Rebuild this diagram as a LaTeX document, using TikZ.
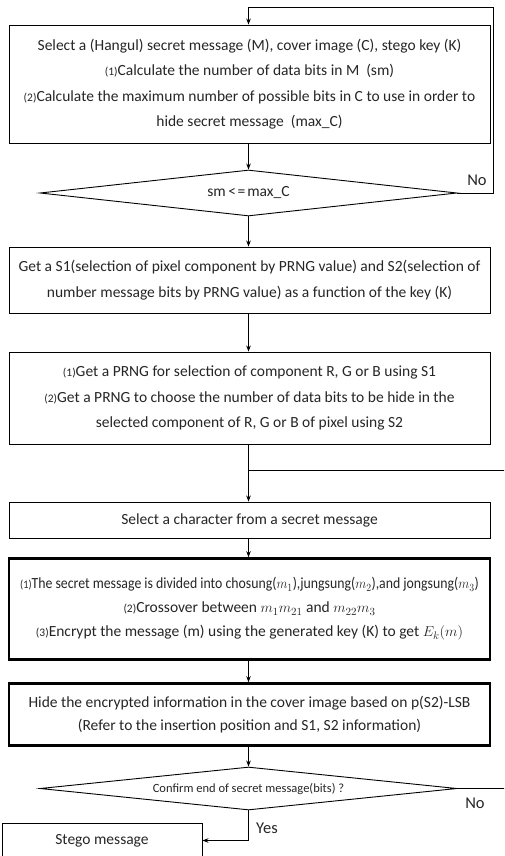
\documentclass[tikz,border=0pt]{standalone}
\usepackage{fontspec}
\setmainfont{Carlito}
\usetikzlibrary{shapes.geometric,arrows.meta}
\newcommand\parnum[1]{{\fontsize{11.5}{12}\selectfont(#1)}}
\begin{document}
\begin{tikzpicture}[x=1pt,y=-1pt,
  box/.style={draw, line width=0.9pt, align=center, inner sep=0pt, minimum width=481pt, font=\fontsize{15.5}{25.5}\selectfont, text=black!85},
  thickbox/.style={box, line width=2.6pt},
  dec/.style={draw, diamond, aspect=9, inner sep=0pt, line width=0.9pt, minimum width=417pt},
  arr/.style={-{Stealth[length=6pt,width=4.5pt]}, line width=0.8pt},
  ln/.style={line width=0.8pt},
  lbl/.style={font=\fontsize{16.5}{16.5}\selectfont, text=black!85, inner sep=0pt}]
\useasboundingbox (0,0) rectangle (504,856);
\clip (0,0) rectangle (504,856);
\fill[white] (0,0) rectangle (504,856);

\node[box, minimum height=118pt] (b1) at (249.5,84) {Select a (Hangul) secret message (M), cover image (C), stego key (K)\\
\parnum{1}Calculate the number of data bits in M~~(sm)\\
\parnum{2}Calculate the maximum number of possible bits in C to use in order to\\
hide secret message~~(max\_C)};

\node[dec, minimum height=46pt, font=\fontsize{15.5}{16}\selectfont, text=black!85] (d1) at (248.5,193) {sm\kern2.5pt<\kern1.5pt=\kern2pt max\_C};

\node[box, minimum height=66pt] (b2) at (249.5,280) {Get a S1(selection of pixel component by PRNG value) and S2(selection of\\
number message bits by PRNG value) as a function of the key (K)};

\node[box, minimum height=92pt] (b3) at (249.5,398) {\parnum{1}Get a PRNG for selection of component R, G or B using S1\\
\parnum{2}Get a PRNG to choose the number of data bits to be hide in the\\
selected component of R, G or B of pixel using S2};

\node[box, minimum height=36pt] (b4) at (249.5,520) {Select a character from a secret message};

\node[thickbox, minimum height=101pt, font=\fontsize{15.5}{24}\selectfont] (b5) at (249.5,609) {\scalebox{0.89}[1]{\parnum{1}The secret message is divided into chosung($m_1$),jungsung($m_2$),and jongsung($m_3$)}\\
\parnum{2}Crossover between $m_1m_{21}$ and $m_{22}m_3$\\
\parnum{3}Encrypt the message (m) using the generated key (K) to get $E_k(m)$};

\node[thickbox, minimum height=62pt, font=\fontsize{15.5}{22.5}\selectfont] (b6) at (249.5,714.5) {Hide the encrypted information in the cover image based on p(S2)-LSB\\
(Refer to the insertion position and S1, S2 information)};

\node[dec, minimum height=43pt, font=\fontsize{12.5}{14}\selectfont, text=black!85] (d2) at (248.5,788.5) {Confirm end of secret message(bits) ?};

\node[box, minimum width=200pt, minimum height=35pt] (st) at (102,840.5) {Stego message};

% main flow
\draw[arr] (b1.south -| d1.north) -- (d1.north);
\draw[arr] (d1.south) -- (d1.south |- b2.north);
\draw[arr] (b2.south -| d1.south) -- (d1.south |- b3.north);
\coordinate (j) at (248.5,470);
\draw[ln] (b3.south -| j) -- (j);
\draw[arr] (j) -- (j |- b4.north);
\draw[arr] (b4.south -| j) -- (j |- b5.north);
\draw[arr] (b5.south -| j) -- (d2.north |- b6.north) ;
\draw[arr] (b6.south -| d2.north) -- (d2.north);

% loop 1
\coordinate (t1) at (493,7);
\draw[arr] (d1.east) -| (t1) -| (b1.north -| d1.north);
\node[lbl] (no1) at (477,180) {No};

% loop 2
\coordinate (r2) at (512,788.5);
\coordinate (r3) at (512,470);
\draw[ln] (d2.east) -- (r2) -- (r3) -- (j);
\node[lbl] (no2) at (475,803) {No};

% yes
\draw[arr] (d2.south) |- (st.east);
\node[lbl] (yes) at (267,828) {Yes};
\end{tikzpicture}
\end{document}
